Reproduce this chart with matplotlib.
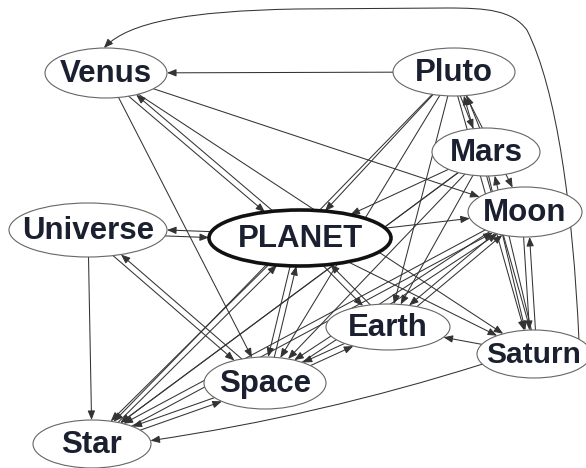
import numpy as np
import matplotlib
matplotlib.use("Agg")
import matplotlib.pyplot as plt
from matplotlib.patches import Ellipse, FancyArrowPatch
from matplotlib.path import Path

# ---------------- data ----------------
nodes = ["Venus", "Pluto", "Mars", "Universe", "PLANET", "Moon",
         "Earth", "Saturn", "Space", "Star"]

edge_src = ["Pluto", "Venus", "Venus", "Venus", "PLANET", "Venus",
            "Universe", "PLANET", "Universe", "Space", "Universe",
            "Pluto", "Pluto", "Mars", "Pluto", "Pluto", "Saturn", "Pluto", "Pluto",
            "Mars", "Mars", "Mars", "Saturn", "Mars", "Mars",
            "PLANET", "Moon", "Space", "Moon", "Star", "Earth", "Saturn", "Moon",
            "PLANET", "PLANET", "Space", "PLANET", "Star", "PLANET", "Earth",
            "Earth", "Space", "Saturn", "Space", "Star", "Pluto", "Mars", "Moon"]
edge_dst = ["Venus", "Moon", "Saturn", "PLANET", "Venus", "Space",
            "PLANET", "Universe", "Star", "Universe", "Space",
            "Moon", "Mars", "Pluto", "PLANET", "Earth", "Pluto", "Saturn", "Space",
            "PLANET", "Space", "Earth", "Mars", "Saturn", "Star",
            "Moon", "Space", "Moon", "Star", "Moon", "Moon", "Moon", "Saturn",
            "Earth", "Space", "PLANET", "Star", "PLANET", "Saturn", "PLANET",
            "Space", "Earth", "Earth", "Star", "Space", "Star", "Star", "Earth"]

curved_src = ["Saturn", "Saturn"]
curved_dst = ["Venus", "Star"]

# ---------------- layout (pixel space) ----------------
layout = {"Venus": (106, 73), "Pluto": (454, 72), "Mars": (486, 152),
          "Universe": (88, 230), "PLANET": (300, 238), "Moon": (525, 212),
          "Earth": (388, 327), "Saturn": (534, 354), "Space": (265, 383),
          "Star": (92, 444)}
sizes = {"Venus": (122, 50), "Pluto": (122, 48), "Mars": (108, 48),
         "Universe": (158, 54), "PLANET": (182, 56), "Moon": (114, 50),
         "Earth": (124, 46), "Saturn": (114, 48), "Space": (122, 52),
         "Star": (118, 48)}
top_margin = 8

W, H = 586, 468
fig = plt.figure(figsize=(W / 100, H / 100), dpi=100)
ax = fig.add_axes([0, 0, 1, 1])
ax.set_xlim(0, W)
ax.set_ylim(H, 0)
ax.axis("off")

line_color = "#333333"
arrow_style = "-|>,head_length=0.55,head_width=0.22"


def ell_hit(start, d, name):
    cx, cy = layout[name]
    a, b = sizes[name][0] / 2, sizes[name][1] / 2
    px, py = start[0] - cx, start[1] - cy
    A = (d[0] / a) ** 2 + (d[1] / b) ** 2
    B = 2 * (px * d[0] / a ** 2 + py * d[1] / b ** 2)
    C = (px / a) ** 2 + (py / b) ** 2 - 1
    disc = max(B * B - 4 * A * C, 0)
    r1 = (-B - np.sqrt(disc)) / (2 * A)
    r2 = (-B + np.sqrt(disc)) / (2 * A)
    return r1, r2


pairs = set(zip(edge_src, edge_dst))
for s, t in zip(edge_src, edge_dst):
    p0 = np.array(layout[s], float)
    p1 = np.array(layout[t], float)
    d = p1 - p0
    d = d / np.hypot(*d)
    n = np.array([-d[1], d[0]])
    off = 3.0 if (t, s) in pairs else 0.0
    start = p0 + off * n
    _, te = ell_hit(start, d, s)
    tb, _ = ell_hit(start, d, t)
    a_pt = start + te * d
    b_pt = start + tb * d
    ax.add_patch(FancyArrowPatch(tuple(a_pt), tuple(b_pt), arrowstyle=arrow_style,
                                 mutation_scale=10, shrinkA=0, shrinkB=0,
                                 color=line_color, lw=0.75, zorder=2))


def ell_point(name, ang):
    cx, cy = layout[name]
    a, b = sizes[name][0] / 2, sizes[name][1] / 2
    return (cx + a * np.cos(np.radians(ang)), cy - b * np.sin(np.radians(ang)))


# long curved edges (routed around the layout)
for s, t in zip(curved_src, curved_dst):
    if t == "Venus":
        sx, sy = ell_point(s, 38)
        tx, ty = ell_point(t, 92)
        rail = sx
        verts = [(sx, sy),
                 (rail - 6, sy - 130), (rail - 22, sy - 250), (rail - 52, top_margin + 22),
                 (rail - 67, top_margin + 2), (rail - 92, top_margin), (rail - 132, top_margin),
                 ((tx + rail) / 2 - 45, top_margin + 1),
                 (tx + 85, top_margin + 3), (tx + 25, top_margin + 14), (tx, ty)]
        codes = [Path.MOVETO, Path.CURVE4, Path.CURVE4, Path.CURVE4,
                 Path.CURVE4, Path.CURVE4, Path.CURVE4, Path.LINETO,
                 Path.CURVE4, Path.CURVE4, Path.CURVE4]
        arr = FancyArrowPatch(path=Path(verts, codes), arrowstyle=arrow_style,
                              mutation_scale=10, color=line_color, lw=0.75, zorder=2)
    else:
        pa = ell_point(s, 205)
        pb = ell_point(t, 8)
        arr = FancyArrowPatch(pa, pb, arrowstyle=arrow_style, mutation_scale=10,
                              shrinkA=0, shrinkB=0, connectionstyle="arc3,rad=-0.04",
                              color=line_color, lw=0.75, zorder=2)
    ax.add_patch(arr)

# nodes
for name in nodes:
    cx, cy = layout[name]
    w, h = sizes[name]
    main = name == "PLANET"
    ax.add_patch(Ellipse((cx, cy), w, h, facecolor="white",
                         edgecolor="#111111" if main else "#666666",
                         lw=2.6 if main else 0.8, zorder=3))
    ax.text(cx, cy + 1, name, ha="center", va="center",
            fontsize=21.5 if name == "Saturn" else 22.5,
            fontweight="bold", family=["Liberation Sans", "DejaVu Sans"],
            color="#1b2030", zorder=4)

fig.savefig("out.png", dpi=100)
